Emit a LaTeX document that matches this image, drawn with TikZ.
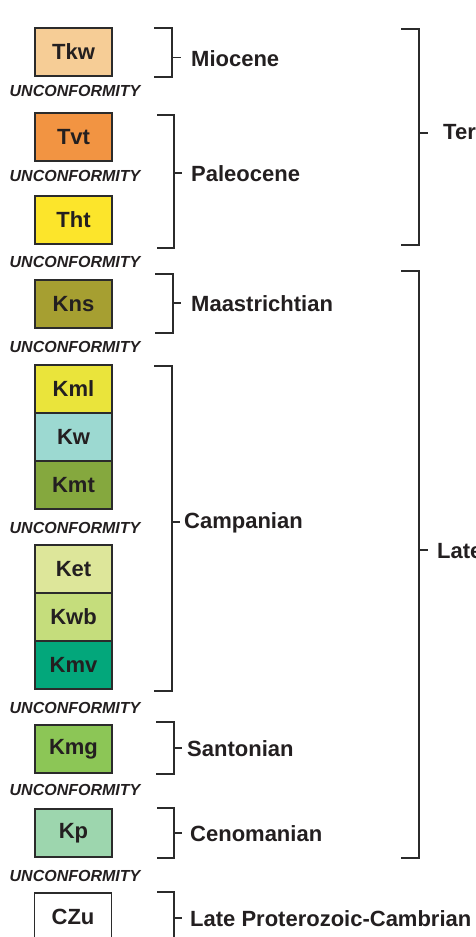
\documentclass[tikz,border=0pt]{standalone}
\usepackage{fontspec}
\setmainfont{Liberation Sans}
\usetikzlibrary{positioning}
\definecolor{ink}{HTML}{231F20}
\definecolor{rule}{HTML}{2B2B2B}
\definecolor{cTkw}{HTML}{F6CD96}
\definecolor{cTvt}{HTML}{F29442}
\definecolor{cTht}{HTML}{FCE52B}
\definecolor{cKns}{HTML}{A69F31}
\definecolor{cKml}{HTML}{EAE43B}
\definecolor{cKw}{HTML}{9CD9D1}
\definecolor{cKmt}{HTML}{85A83E}
\definecolor{cKet}{HTML}{DDE69A}
\definecolor{cKwb}{HTML}{C5DD7C}
\definecolor{cKmv}{HTML}{03A77B}
\definecolor{cKmg}{HTML}{8CC656}
\definecolor{cKp}{HTML}{9DD6AE}
\tikzset{
  unit/.style={draw=rule, line width=1.1pt, minimum width=77pt, minimum height=48pt,
    inner sep=0pt, text=ink, font=\fontsize{22}{24}\selectfont\bfseries},
  uncon/.style={text=ink, inner sep=0pt, font=\fontsize{16}{18}\selectfont\bfseries\itshape},
  age/.style={anchor=west, text=ink, inner sep=0pt, font=\fontsize{22}{24}\selectfont\bfseries},
  brace/.style={draw=rule, line width=1.1pt}
}
\begin{document}
\begin{tikzpicture}[x=1pt, y=-1pt]
\useasboundingbox (0,0) rectangle (475,937);
\begin{scope}
\clip (0,0) rectangle (475,937);
% rock units
\node[unit, fill=cTkw] (tkw) at (73.5,52) {Tkw};
\node[unit, fill=cTvt] (tvt) at (73.5,137) {Tvt};
\node[unit, fill=cTht] (tht) at (73.5,220) {Tht};
\node[unit, fill=cKns] (kns) at (73.5,304) {Kns};
\node[unit, fill=cKml] (kml) at (73.5,389) {Kml};
\node[unit, fill=cKw]  (kw)  at (73.5,437) {Kw};
\node[unit, fill=cKmt] (kmt) at (73.5,485) {Kmt};
\node[unit, fill=cKet] (ket) at (73.5,569) {Ket};
\node[unit, fill=cKwb] (kwb) at (73.5,617) {Kwb};
\node[unit, fill=cKmv] (kmv) at (73.5,665) {Kmv};
\node[unit, fill=cKmg] (kmg) at (73.5,749) {Kmg};
\node[unit, fill=cKp]  (kp)  at (73.5,833) {Kp};
\node[unit, fill=white] (czu) at (73,917) {CZu};
% unconformities
\foreach \y/\n in {91/u1,176/u2,262/u3,347/u4,528/u5,708/u6,790/u7,876/u8}
  \node[uncon] (\n) at (75,\y) {UNCONFORMITY};
% stage brackets: left x, spine x, top, bottom, tick y, tick end, label x, label, name
\foreach \xa/\xb/\ta/\tb/\ty/\te/\lx/\lab/\n in {
  154/172/28/77/57.5/180.5/191/Miocene/mio,
  157/174/115/248/173/182/191/Paleocene/pal,
  155/173/274/333/303/181/191/Maastrichtian/maa,
  154/172/366/691/522/179.5/184/Campanian/cam,
  156/174/722/774/748/182/187/Santonian/san,
  157/174/808/858/833/182/190/Cenomanian/cen,
  157/174/892/960/918/182/190/Late Proterozoic-Cambrian/lpc,
  401/419/29/245/133/428/443/Tertiary/ter,
  401/419/271/858/550/428/437/Late Cretaceous/lkc}
{
  \draw[brace] (\xa,\ta) -- (\xb,\ta) -- (\xb,\tb) -- (\xa,\tb);
  \coordinate (\n-tick) at (\xb,\ty);
  \node[age] (\n) at (\lx,\ty+1) {\lab};
  \draw[brace] (\n-tick) -- (\te,\ty);
}
\end{scope}
\end{tikzpicture}
\end{document}
